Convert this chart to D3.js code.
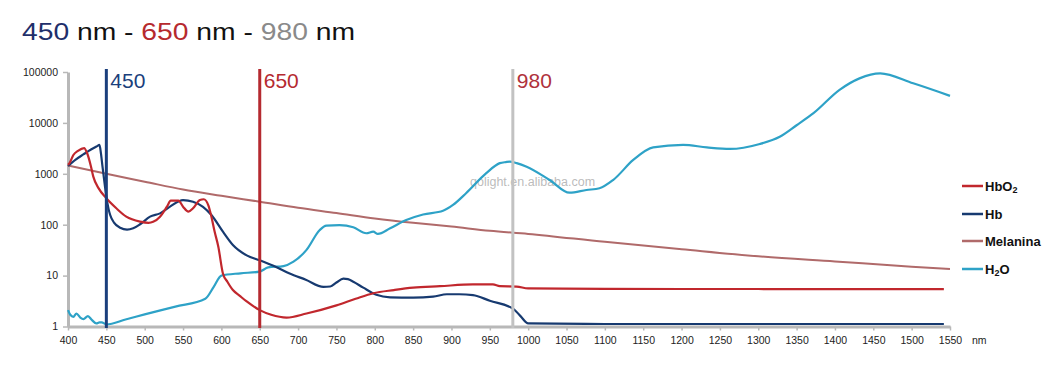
<!DOCTYPE html>
<html>
<head>
<meta charset="utf-8">
<script src="https://cdn.jsdelivr.net/npm/d3@7"></script>
<style>
  html, body { margin: 0; padding: 0; background: #fff; }
  svg { display: block; }
  text { font-family: "Liberation Sans", Arial, sans-serif; }
</style>
</head>
<body>
<svg id="chart" width="1059" height="365"></svg>
<script>
// ---------- data ----------
const xTicks = [400,450,500,550,600,650,700,750,800,850,900,950,1000,1050,1100,1150,1200,1250,1300,1350,1400,1450,1500,1550];
const yTicks = [1,10,100,1000,10000,100000];
const markers = [450, 650, 980];
const markerColors = ["#1b3f7c", "#b52a30", "#c2c2c2"];
const markerLabelColors = ["#1b3f7c", "#b52a30", "#b0323c"];

const seriesNames = ["HbO2", "Hb", "Melanina", "H2O"];
const seriesColors = ["#c1272d", "#173a70", "#b06a6a", "#2ea2c7"];

const hbo2Nm  = [400,402,407,413,421,425,430,433,440,450,463,476,494,505,511,520,529,534,544,550,557,563,572,577,583,587,591,596,602,608,615,624,633,650,665,685,711,750,775,798,825,850,885,928,954,963,985,1000,1100,1200,1300,1400,1542];
const hbo2Val = [1500,1620,2340,2830,3200,2530,1380,880,517,330,210,144,115,109,114,144,226,296,296,226,180,210,305,316,240,143,75,37,11,7.5,5.2,4.0,3.1,2.1,1.7,1.5,1.8,2.6,3.5,4.5,5.2,5.8,6.2,6.7,6.7,6.2,6.1,5.6,5.5,5.45,5.45,5.4,5.4];

const hbNm  = [400,410,420,430,438,441,443,445,448,450,453,455,460,468,477,485,494,507,520,533,550,563,576,587,602,615,633,650,672,689,710,733,742,750,759,765,772,785,802,820,850,876,894,910,928,950,981,990,1000,1100,1300,1542];
const hbVal = [1420,1900,2400,3000,3500,3700,2500,1380,600,355,200,155,110,87,80,85,102,144,167,226,305,283,225,155,73,40,25,20,14.6,11,8.3,6.0,6.1,7.3,8.7,8.5,7.6,5.8,4.2,3.75,3.7,3.85,4.3,4.3,4.15,3.2,2.2,1.6,1.15,1.12,1.12,1.12];

const melNm  = [400,450,500,550,600,650,700,750,800,850,900,950,1000,1100,1200,1300,1400,1500,1550];
const melVal = [1450,1000,700,490,370,283,215,170,133,109,92,76,66,46,33,24,19,15,13.5];

const h2oNm  = [400,403,407,411,416,420,426,431,437,441,444,450,475,500,540,579,590,600,625,650,661,681,694,711,728,737,754,772,789,798,804,820,841,863,889,902,919,945,963,971,976,985,998,1028,1054,1076,1093,1111,1137,1163,1202,1233,1263,1302,1328,1350,1372,1406,1432,1459,1502,1550];
const h2oVal = [2.1,1.7,1.55,1.8,1.5,1.4,1.6,1.35,1.15,1.2,1.2,1.1,1.37,1.73,2.46,3.5,6.0,10,11.1,12,14.5,15.4,18.8,32,78,96,98,89,68,73,66,85,124,159,188,245,415,1020,1620,1700,1730,1620,1380,755,425,480,520,760,1870,3300,3700,3300,3080,3860,5350,9000,15500,44600,75000,94000,60000,34000];

// ---------- scales ----------
const svg = d3.select("#chart");
const x = d3.scaleLinear().domain([400, 1550]).range([68, 950]);
const y = d3.scaleLog().domain([1, 100000]).range([326.5, 72]);
const axisColor = "#b8b8b8";

// ---------- title ----------
const title = svg.append("text")
  .attr("x", 22).attr("y", 40)
  .attr("font-family", "Roboto, 'Liberation Sans', Arial, sans-serif")
  .attr("font-size", 24).attr("font-weight", 500)
  .attr("textLength", 333).attr("lengthAdjust", "spacingAndGlyphs");
[["450", "#1f2f6b"], [" nm - ", "#111"], ["650", "#b62a2e"], [" nm - ", "#111"], ["980", "#8a8a8a"], [" nm", "#111"]]
  .forEach(([t, c]) => title.append("tspan").attr("fill", c).text(t));

// ---------- axes ----------
const gx = svg.append("g").attr("transform", "translate(0,326.5)")
  .call(d3.axisBottom(x).tickValues(xTicks).tickFormat(d3.format("d")).tickSize(4).tickSizeOuter(0).tickPadding(6));
const gy = svg.append("g").attr("transform", "translate(68,0)")
  .call(d3.axisLeft(y).tickValues(yTicks).tickFormat(d3.format("d")).tickSize(5).tickSizeOuter(0).tickPadding(5));
[gx, gy].forEach(g => {
  g.select(".domain").attr("stroke", axisColor).attr("stroke-width", 3);
  g.selectAll(".tick line").attr("stroke", axisColor).attr("stroke-width", 1.5);
  g.selectAll(".tick text").attr("fill", "#222").attr("font-size", 10.5)
    .attr("font-family", "'Liberation Sans', Arial, sans-serif");
});
svg.append("text").attr("x", 972).attr("y", 344).attr("font-size", 10.5).attr("fill", "#222").text("nm");

// ---------- watermark ----------
svg.append("text").attr("x", 470).attr("y", 186).attr("font-size", 12.5)
  .attr("fill", "#aaaaaa").attr("fill-opacity", 0.8).text("qolight.en.alibaba.com");

// ---------- series ----------
const line = d3.line().x(d => x(d[0])).y(d => y(d[1])).curve(d3.curveMonotoneX);
const series = [
  { nm: melNm, val: melVal, color: seriesColors[2], w: 2 },
  { nm: h2oNm, val: h2oVal, color: seriesColors[3], w: 2.2 },
  { nm: hbNm, val: hbVal, color: seriesColors[1], w: 2.2 },
  { nm: hbo2Nm, val: hbo2Val, color: seriesColors[0], w: 2.2 }
];
series.forEach(s => {
  svg.append("path")
    .datum(s.nm.map((n, i) => [n, s.val[i]]))
    .attr("fill", "none").attr("stroke", s.color).attr("stroke-width", s.w)
    .attr("stroke-linejoin", "round").attr("d", line);
});

// ---------- marker lines ----------
markers.forEach((m, i) => {
  svg.append("line").attr("x1", x(m)).attr("x2", x(m)).attr("y1", 69).attr("y2", 328)
    .attr("stroke", markerColors[i]).attr("stroke-width", 3);
  svg.append("text").attr("x", x(m) + 4).attr("y", 88)
    .attr("font-size", 21).attr("fill", markerLabelColors[i]).text(m);
});

// ---------- legend ----------
const legendY = [186, 214, 241, 269];
seriesNames.forEach((name, i) => {
  svg.append("line").attr("x1", 962).attr("x2", 983).attr("y1", legendY[i]).attr("y2", legendY[i])
    .attr("stroke", seriesColors[i]).attr("stroke-width", 2.5);
  const t = svg.append("text").attr("x", 985).attr("y", legendY[i]).attr("dy", "0.36em")
    .attr("font-size", 13).attr("font-weight", 600).attr("fill", "#111");
  // split into normal parts and subscript digits
  name.split(/(\d)/).filter(p => p.length).forEach(p => {
    if (/^\d$/.test(p)) {
      t.append("tspan").attr("font-size", 9).attr("baseline-shift", "-25%").text(p);
    } else {
      t.append("tspan").text(p);
    }
  });
});
</script>
</body>
</html>
